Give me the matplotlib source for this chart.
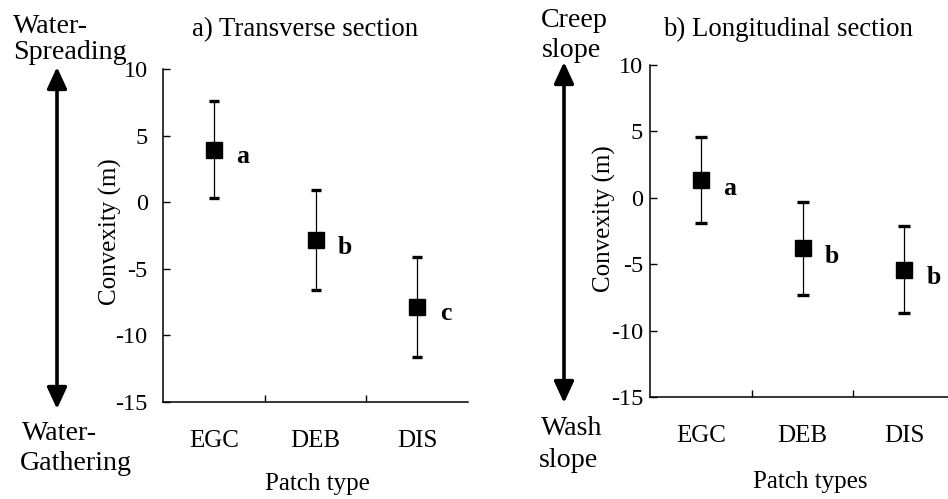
import matplotlib
matplotlib.use("Agg")
import matplotlib.pyplot as plt

# data
patch_types = ["EGC", "DEB", "DIS"]
trans_mean = [3.95, -2.85, -7.85]
trans_err = [3.65, 3.75, 3.75]
trans_letters = ["a", "b", "c"]
long_mean = [1.35, -3.8, -5.4]
long_err = [3.25, 3.5, 3.3]
long_letters = ["a", "b", "b"]
y_ticks = [-15, -10, -5, 0, 5, 10]

plt.rcParams["font.family"] = ["Liberation Serif", "DejaVu Serif"]
plt.rcParams["axes.unicode_minus"] = False

W, H = 948, 499
fig = plt.figure(figsize=(W / 100, H / 100), dpi=100)


def px(x, y):
    # pixel (from top-left) -> figure fraction
    return x / W, 1 - y / H


def panel(rect, means, errs, letters, ypad, capsize, letter_off):
    ax = fig.add_axes(rect)
    xs = list(range(1, len(means) + 1))
    ax.errorbar(xs, means, yerr=errs, fmt="s", color="black", ms=11,
                elinewidth=0.9, capsize=capsize, capthick=2.4)
    for x, m, lab in zip(xs, means, letters):
        ax.annotate(lab, (x, m), xytext=letter_off, textcoords="offset points",
                    ha="center", va="center", fontsize=18.5, fontweight="bold")
    ax.set_xlim(0.5, 3.5)
    ax.set_ylim(-15, 10)
    ax.set_yticks(y_ticks)
    ax.set_xticks(xs)
    ax.set_xticklabels(patch_types)
    ax.set_xticks([1.5, 2.5], minor=True)
    ax.tick_params(axis="x", which="major", length=0, pad=20, labelsize=18)
    ax.tick_params(axis="x", which="minor", direction="in", length=5, width=1)
    ax.tick_params(axis="y", direction="in", length=5, width=1, pad=ypad,
                   labelsize=17.5)
    for s in ["top", "right"]:
        ax.spines[s].set_visible(False)
    for s in ["left", "bottom"]:
        ax.spines[s].set_linewidth(1.1)
    return ax


panel([163 / W, 1 - 402 / H, 305 / W, 333 / H], trans_mean, trans_err,
      trans_letters, 11, 3.6, (21, -5))
panel([650 / W, 1 - 397 / H, 305 / W, 332 / H], long_mean, long_err,
      long_letters, 5, 4.3, (21, -6))

# titles and axis labels
fig.text(*px(305, 36), "a) Transverse section", fontsize=19.3, ha="center", va="baseline")
fig.text(*px(788, 36), "b) Longitudinal section", fontsize=19.3, ha="center", va="baseline")
fig.text(*px(110, 232), "Convexity (m)", fontsize=18, rotation=90, ha="center", va="center")
fig.text(*px(604, 219), "Convexity (m)", fontsize=18, rotation=90, ha="center", va="center")
fig.text(*px(317, 490), "Patch type", fontsize=18, ha="center", va="baseline")
fig.text(*px(810, 488), "Patch types", fontsize=18, ha="center", va="baseline")

# side annotations
side = [(13, 33, "Water-"), (13, 59, "Spreading"), (22, 440, "Water-"),
        (20, 470, "Gathering"), (541, 27, "Creep"), (542, 57, "slope"),
        (541, 435, "Wash"), (539, 467, "slope")]
for x, y, t in side:
    fig.text(*px(x, y), t, fontsize=20.2, ha="left", va="baseline")

# double-headed arrows
for x, y0, y1 in [(57, 67, 409), (564, 62, 403)]:
    fig.add_artist(matplotlib.patches.FancyArrowPatch(
        (x, H - y0), (x, H - y1), transform=None,
        arrowstyle="<|-|>,head_length=0.65,head_width=0.3",
        mutation_scale=20, lw=2.6, color="black", shrinkA=0, shrinkB=0))

fig.savefig("out.png", dpi=100)
